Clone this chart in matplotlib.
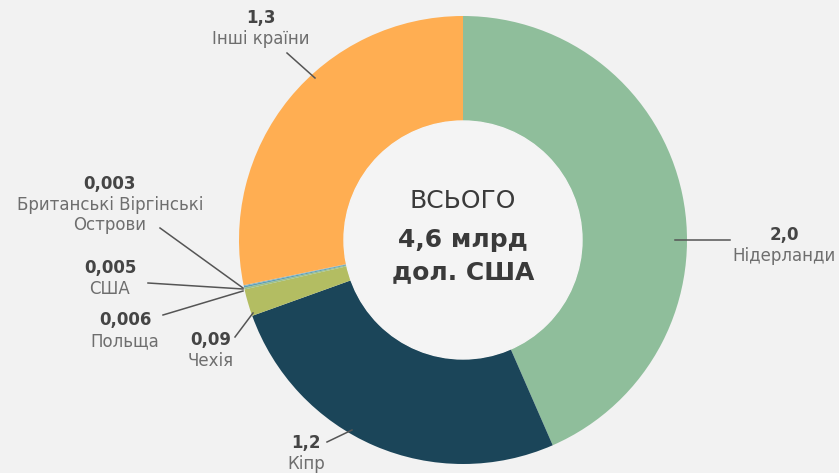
import matplotlib.pyplot as plt

# data (млрд дол. США), clockwise from the top
countries = ['Нідерланди', 'Кіпр', 'Чехія', 'Польща', 'США',
             'Британські Віргінські\nОстрови', 'Інші країни']
values = [2.0, 1.2, 0.09, 0.006, 0.005, 0.003, 1.3]
value_labels = ['2,0', '1,2', '0,09', '0,006', '0,005', '0,003', '1,3']
colors = ['#8fbe9b', '#1b4559', '#b3bd62', '#9cc08a', '#5f9fb3', '#7ab0c4', '#ffae52']

bg = '#f2f2f2'
W, H = 839, 473
fig = plt.figure(figsize=(W / 100, H / 100), dpi=100, facecolor=bg)
ax = fig.add_axes([0, 0, 1, 1])

cx, cy = 463, H - 240
r_out, r_in = 224, 119

ax.pie(values, colors=colors, startangle=90, counterclock=False,
       center=(cx, cy), radius=r_out, frame=True,
       wedgeprops=dict(width=r_out - r_in, linewidth=0))
ax.set_xlim(0, W)
ax.set_ylim(0, H)
ax.set_aspect('equal')
ax.axis('off')

ax.add_patch(plt.Circle((cx, cy), r_in, color='#f4f4f4', zorder=3))

# leader lines (start, end) in pixel coords (y from top)
lines = [
    ((675, 240), (730, 240)),
    ((352, 430), (327, 442)),
    ((253, 313), (235, 337)),
    ((243, 291), (163, 315)),
    ((243, 289), (148, 283)),
    ((243, 288), (160, 228)),
    ((315, 78), (287, 53)),
]
# label anchors: (x, y of value line)
label_pos = [
    (784, 235), (306, 443), (211, 340), (125, 320), (110, 268),
    (110, 184), (261, 18),
]

val_col = '#454545'
name_col = '#6e6e6e'
fs = 12
for i, name in enumerate(countries):
    (x0, y0), (x1, y1) = lines[i]
    ax.plot([x0, x1], [H - y0, H - y1], color='#555555', lw=1.1, zorder=4)
    lx, ly = label_pos[i]
    ax.text(lx, H - ly, value_labels[i], ha='center', va='center',
            fontsize=fs, fontweight='bold', color=val_col)
    ax.text(lx, H - ly - 12, name, ha='center', va='top', fontsize=fs,
            color=name_col, linespacing=1.15)

ax.text(cx, H - 201, 'ВСЬОГО', ha='center', va='center', fontsize=18,
        color='#3a3a3a', zorder=5)
ax.text(cx, H - 240, '4,6 млрд', ha='center', va='center', fontsize=18,
        fontweight='bold', color='#3a3a3a', zorder=5)
ax.text(cx, H - 272, 'дол. США', ha='center', va='center', fontsize=18,
        fontweight='bold', color='#3a3a3a', zorder=5)

fig.savefig('out.png', dpi=100, facecolor=bg)
